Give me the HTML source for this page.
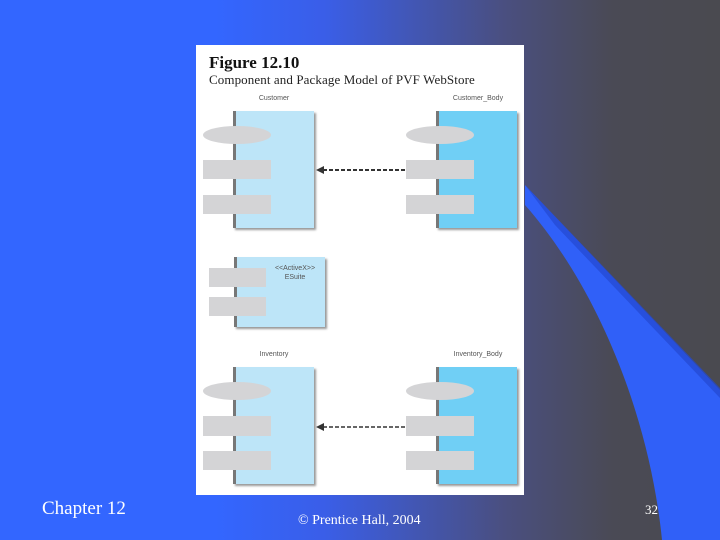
<!DOCTYPE html>
<html><head><style>
body{margin:0;width:720px;height:540px;overflow:hidden;position:relative;font-family:"Liberation Serif",serif;
background:linear-gradient(90deg,#3366ff 0%,#3366ff 30%,#3a5ee8 45%,#4a4f80 70%,#4a4a55 85%,#4a4a50 100%);}
.a{position:absolute}
.lbl{position:absolute;font-family:"Liberation Sans",sans-serif;font-size:7px;color:#555;text-align:center;width:120px}
.g{position:absolute;background:#d4d4d6}
.e{position:absolute;background:#d4d4d6;border-radius:50%}
</style></head><body>
<svg class="a" style="left:0;top:0" width="720" height="540">
<path d="M525 185 L720 390 L720 540 L662 540 C650 420 600 290 525 205 Z" fill="#3060f8"/>
<path d="M525 185 L720 388 L720 398 L555 225 Z" fill="#2448d0" opacity="0.7"/>
</svg>
<div class="a" style="left:196px;top:45px;width:328px;height:450px;background:#fff"></div>
<div class="a" style="left:209px;top:53px;font-size:17px;font-weight:bold;color:#111">Figure 12.10</div>
<div class="a" style="left:209px;top:72px;font-size:13px;color:#222;letter-spacing:0.1px">Component and Package Model of PVF WebStore</div>

<div class="lbl" style="left:214px;top:95px">Customer</div>
<div class="lbl" style="left:418px;top:95px">Customer_Body</div>
<div class="lbl" style="left:214px;top:351px">Inventory</div>
<div class="lbl" style="left:418px;top:351px">Inventory_Body</div>

<div class="a" style="left:233px;top:111px;width:78px;height:117px;background:#bde5f8;border-left:3px solid #777;box-shadow:2px 2px 2px #999"></div>
<div class="e" style="left:203px;top:126px;width:68px;height:18px"></div>
<div class="g" style="left:203px;top:160px;width:68px;height:19px"></div>
<div class="g" style="left:203px;top:195px;width:68px;height:19px"></div>

<div class="a" style="left:436px;top:111px;width:78px;height:117px;background:#70cff5;border-left:3px solid #777;box-shadow:2px 2px 2px #999"></div>
<div class="e" style="left:406px;top:126px;width:68px;height:18px"></div>
<div class="g" style="left:406px;top:160px;width:68px;height:19px"></div>
<div class="g" style="left:406px;top:195px;width:68px;height:19px"></div>

<div class="a" style="left:234px;top:257px;width:88px;height:70px;background:#bde5f8;border-left:3px solid #777;box-shadow:2px 2px 2px #999"></div>
<div class="a" style="left:260px;top:264px;width:70px;text-align:center;font-family:'Liberation Sans',sans-serif;font-size:7px;color:#555;line-height:9px">&lt;&lt;ActiveX&gt;&gt;<br>ESuite</div>
<div class="g" style="left:209px;top:268px;width:57px;height:19px"></div>
<div class="g" style="left:209px;top:297px;width:57px;height:19px"></div>

<div class="a" style="left:233px;top:367px;width:78px;height:117px;background:#bde5f8;border-left:3px solid #777;box-shadow:2px 2px 2px #999"></div>
<div class="e" style="left:203px;top:382px;width:68px;height:18px"></div>
<div class="g" style="left:203px;top:416px;width:68px;height:20px"></div>
<div class="g" style="left:203px;top:451px;width:68px;height:19px"></div>

<div class="a" style="left:436px;top:367px;width:78px;height:117px;background:#70cff5;border-left:3px solid #777;box-shadow:2px 2px 2px #999"></div>
<div class="e" style="left:406px;top:382px;width:68px;height:18px"></div>
<div class="g" style="left:406px;top:416px;width:68px;height:20px"></div>
<div class="g" style="left:406px;top:451px;width:68px;height:19px"></div>

<svg class="a" style="left:0;top:0" width="720" height="540">
<line x1="405" y1="170" x2="322" y2="170" stroke="#333" stroke-width="2" stroke-dasharray="4,2"/>
<path d="M316 170 L324 166 L324 174 Z" fill="#333"/>
<line x1="405" y1="427" x2="322" y2="427" stroke="#333" stroke-width="1.5" stroke-dasharray="4,2"/>
<path d="M316 427 L324 423 L324 431 Z" fill="#333"/>
</svg>

<div class="a" style="left:42px;top:498px;font-size:19px;color:#fff">Chapter 12</div>
<div class="a" style="left:298px;top:513px;font-size:14px;color:#fff">© Prentice Hall, 2004</div>
<div class="a" style="left:645px;top:502px;font-size:13px;color:#fff">32</div>
</body></html>
